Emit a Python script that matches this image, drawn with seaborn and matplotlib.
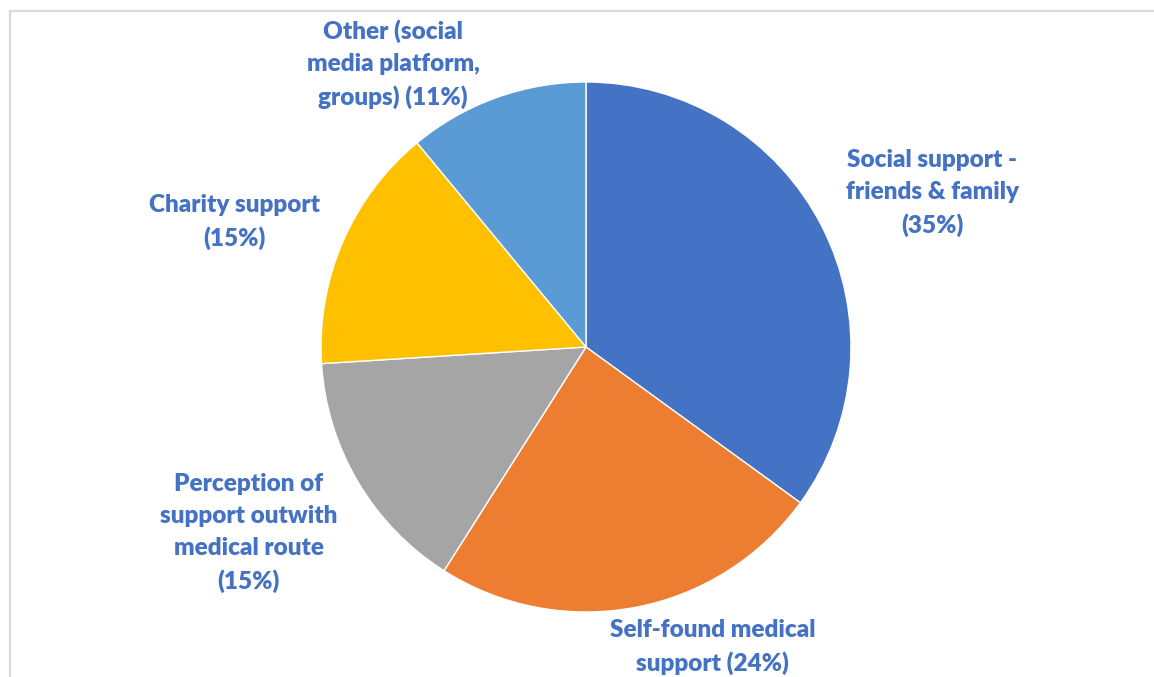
import matplotlib
matplotlib.use("Agg")
import matplotlib.pyplot as plt
import seaborn as sns
from matplotlib.patches import Rectangle

# Sources of support reported by respondents
categories = [
    "Social support -\nfriends & family",
    "Self-found medical\nsupport",
    "Perception of\nsupport outwith\nmedical route",
    "Charity support",
    "Other (social\nmedia platform,\ngroups)",
]
shares = [35, 24, 15, 15, 11]
label_texts = [
    "Social support -\nfriends & family\n(35%)",
    "Self-found medical\nsupport (24%)",
    "Perception of\nsupport outwith\nmedical route\n(15%)",
    "Charity support\n(15%)",
    "Other (social\nmedia platform,\ngroups) (11%)",
]
colors = ["#4472C4", "#ED7D31", "#A5A5A5", "#FFC000", "#5B9BD5"]

sns.set_theme(style="white")
plt.rcParams["font.family"] = ["Lato", "DejaVu Sans"]

W, H = 1154, 677
fig = plt.figure(figsize=(W / 100, H / 100), dpi=100)
fig.patch.set_facecolor("white")

# axes box sized so the pie sits centred at (586, 347) px with radius 265 px
cx, cy, r = 586, 347, 265
ax = fig.add_axes([(cx - r) / W, (H - cy - r) / H, 2 * r / W, 2 * r / H])

wedges, _ = ax.pie(
    shares,
    colors=colors,
    startangle=90,
    counterclock=False,
    radius=1.0,
    wedgeprops=dict(edgecolor="white", linewidth=1.0),
)
ax.set_xlim(-1, 1)
ax.set_ylim(-1, 1)
ax.set_aspect("equal")
ax.axis("off")

# label anchor positions in pie units (radius = 1)
label_pos = [(1.306, 0.581), (0.479, -1.132), (-1.272, -0.702),
             (-1.325, 0.472), (-0.728, 1.068)]
for txt, (x, y) in zip(label_texts, label_pos):
    ax.text(x, y, txt, ha="center", va="center", color="#4472C4",
            fontsize=17.5, fontweight="heavy", linespacing=1.53, clip_on=False)

# light frame around the chart area
frame = Rectangle((10 / W, -0.1), 1.2, (H - 11) / H + 0.1,
                  transform=fig.transFigure, fill=False,
                  edgecolor="#D9D9D9", linewidth=1.6, zorder=0)
fig.patches.append(frame)

fig.savefig("out.png", dpi=100)
